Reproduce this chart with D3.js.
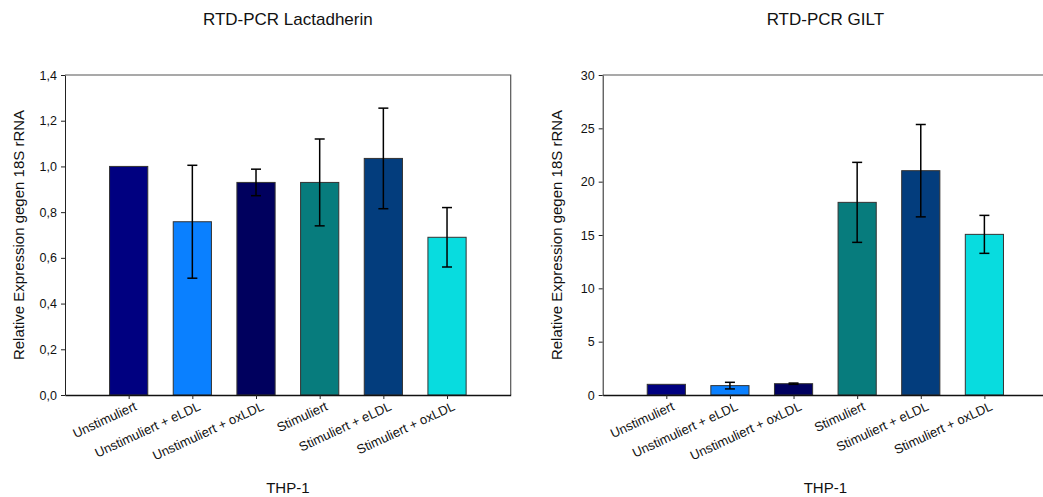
<!DOCTYPE html>
<html>
<head>
<meta charset="utf-8">
<script src="https://cdn.jsdelivr.net/npm/d3@7"></script>
<style>
  body { margin: 0; background: #fff; }
  svg { display: block; font-family: "Liberation Sans", Arial, sans-serif; }
</style>
</head>
<body>
<div id="chart"></div>
<script>
// Data
const categories = [
  "Unstimuliert", "Unstimuliert + eLDL", "Unstimuliert + oxLDL",
  "Stimuliert", "Stimuliert + eLDL", "Stimuliert + oxLDL"
];
const lactadherin = [1.0, 0.758, 0.93, 0.93, 1.035, 0.69];
const lactadherinErr = [0, 0.247, 0.058, 0.19, 0.22, 0.13];
const gilt = [1.0, 0.88, 1.06, 18.06, 21.03, 15.06];
const giltErr = [0, 0.31, 0.06, 3.75, 4.33, 1.78];
const lactTicks = [0, 0.2, 0.4, 0.6, 0.8, 1.0, 1.2, 1.4];
const giltTicks = [0, 5, 10, 15, 20, 25, 30];

const barColors = ["#000080", "#0a80ff", "#00005e", "#077c7d", "#033d7d", "#08dcdf"];

const width = 1043;
const height = 497;

const svg = d3.select("#chart")
  .append("svg")
  .attr("width", width)
  .attr("height", height);

function drawPanel(opts) {
  const x = d3.scaleLinear().domain([0, categories.length + 1]).range([opts.left, opts.right]);
  const y = d3.scaleLinear().domain([0, opts.max]).range([395, 75]);
  const g = svg.append("g");
  const bw = x(0.6) - x(0);

  // title
  g.append("text")
    .attr("x", (opts.left + opts.right) / 2)
    .attr("y", 25)
    .attr("text-anchor", "middle")
    .style("font-size", "17px")
    .attr("fill", "#111")
    .text(opts.title);

  // frame (top + right)
  g.append("path")
    .attr("d", `M${opts.left},${y(opts.max)}H${opts.right}V${y(0)}`)
    .attr("fill", "none")
    .attr("stroke", "#555")
    .attr("stroke-width", 1.2);

  // bars
  g.selectAll(".bar")
    .data(opts.values)
    .join("rect")
    .attr("class", "bar")
    .attr("x", (d, i) => x(i + 1) - bw / 2)
    .attr("y", d => y(d))
    .attr("width", bw)
    .attr("height", d => y(0) - y(d))
    .attr("fill", (d, i) => barColors[i])
    .attr("stroke", "#333")
    .attr("stroke-width", 1);

  // error bars
  const eb = g.selectAll(".err")
    .data(opts.values.map((v, i) => ({ v, e: opts.errors[i], i })).filter(d => d.e > 0))
    .join("g")
    .attr("class", "err")
    .attr("stroke", "#000")
    .attr("stroke-width", 1.5);
  eb.append("line")
    .attr("x1", d => x(d.i + 1)).attr("x2", d => x(d.i + 1))
    .attr("y1", d => y(d.v + d.e)).attr("y2", d => y(d.v - d.e));
  eb.append("line")
    .attr("x1", d => x(d.i + 1) - 5).attr("x2", d => x(d.i + 1) + 5)
    .attr("y1", d => y(d.v + d.e)).attr("y2", d => y(d.v + d.e));
  eb.append("line")
    .attr("x1", d => x(d.i + 1) - 5).attr("x2", d => x(d.i + 1) + 5)
    .attr("y1", d => y(d.v - d.e)).attr("y2", d => y(d.v - d.e));

  // y axis
  const yAxis = g.append("g")
    .attr("transform", `translate(${opts.left},0)`)
    .call(d3.axisLeft(y).tickValues(opts.ticks).tickSize(4).tickSizeOuter(0).tickFormat(opts.fmt));
  yAxis.select(".domain").attr("stroke", "#222");
  yAxis.selectAll(".tick line").attr("stroke", "#222");
  yAxis.selectAll(".tick text")
    .attr("x", -8)
    .style("font-size", "12.5px")
    .style("font-family", "'Liberation Sans', Arial, sans-serif")
    .attr("fill", "#111");

  // x axis
  const xAxis = g.append("g")
    .attr("transform", `translate(0,${y(0)})`)
    .call(d3.axisBottom(x).tickValues(d3.range(1, categories.length + 1)).tickSize(4).tickSizeOuter(0).tickFormat(() => ""));
  xAxis.select(".domain").attr("stroke", "#111").attr("stroke-width", 1.3);
  xAxis.selectAll(".tick line").attr("stroke", "#222");

  g.selectAll(".xlabel")
    .data(categories)
    .join("text")
    .attr("class", "xlabel")
    .attr("transform", (d, i) => `translate(${x(i + 1) + 5},${y(0) + 6}) rotate(-25)`)
    .attr("text-anchor", "end")
    .attr("dy", "0.71em")
    .style("font-size", "13px")
    .attr("fill", "#111")
    .text(d => d);

  // axis titles
  g.append("text")
    .attr("x", (opts.left + opts.right) / 2)
    .attr("y", 493)
    .attr("text-anchor", "middle")
    .style("font-size", "15px")
    .attr("fill", "#111")
    .text("THP-1");

  g.append("text")
    .attr("transform", `translate(${opts.left - 41},${(y(0) + y(opts.max)) / 2}) rotate(-90)`)
    .attr("text-anchor", "middle")
    .style("font-size", "15px")
    .attr("fill", "#111")
    .text("Relative Expression gegen 18S rRNA");
}

const commaFmt = d => d3.format(".1f")(d).replace(".", ",");

drawPanel({
  title: "RTD-PCR Lactadherin",
  values: lactadherin, errors: lactadherinErr,
  max: 1.4, ticks: lactTicks, fmt: commaFmt,
  left: 65, right: 510.7
});

drawPanel({
  title: "RTD-PCR GILT",
  values: gilt, errors: giltErr,
  max: 30, ticks: giltTicks, fmt: d3.format("d"),
  left: 602.7, right: 1048
});
</script>
</body>
</html>
